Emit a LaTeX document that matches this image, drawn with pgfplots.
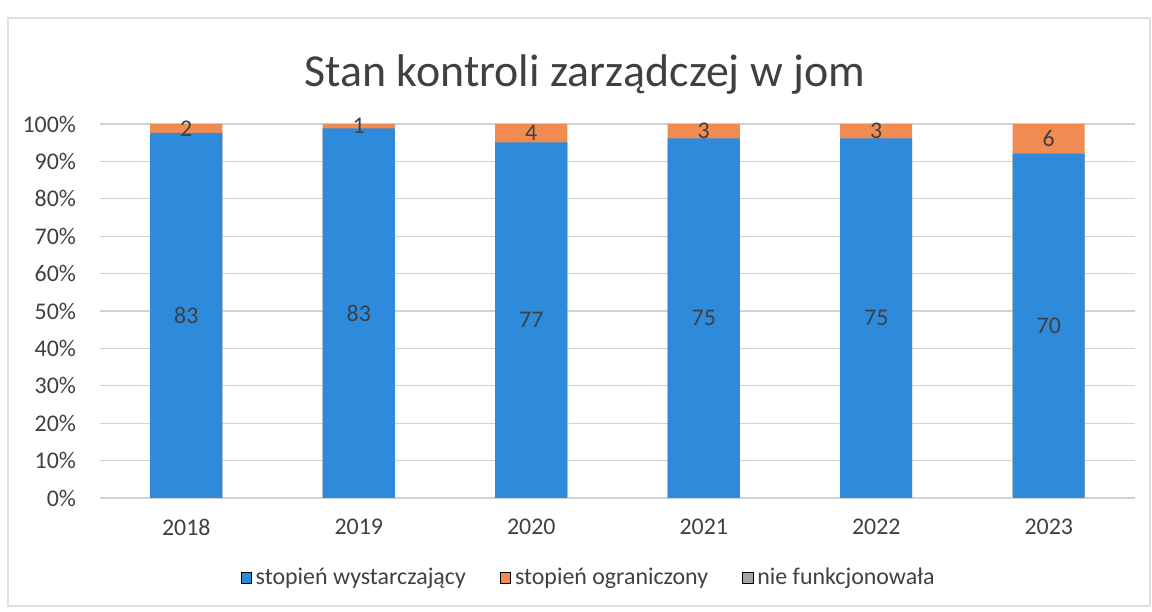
\documentclass[border=0pt]{standalone}
\usepackage{pgfplots}
\pgfplotsset{compat=1.18}
\usepackage{pgfplotstable}
\usepackage{fontspec}
\setmainfont{Carlito}
\definecolor{cblue}{RGB}{46,138,218}
\definecolor{corange}{RGB}{240,140,82}
\definecolor{cgray}{RGB}{165,165,165}
\definecolor{ctext}{RGB}{64,64,64}
\definecolor{cgrid}{RGB}{210,210,210}
\pgfplotstableread{
i year a b c
0 2018 83 2 0
1 2019 83 1 0
2 2020 77 4 0
3 2021 75 3 0
4 2022 75 3 0
5 2023 70 6 0
}\datatab
\begin{document}
\begin{tikzpicture}
\path[use as bounding box] (0,0) rectangle (576bp,306bp);
\draw[gray!25, line width=0.6bp] (4bp,3bp) rectangle (575bp,297bp);
\node[font=\fontsize{23}{27}\selectfont, text=ctext] at (292.5bp,268.5bp) {Stan kontroli zarządczej w jom};
\begin{axis}[
  at={(50bp,57bp)}, anchor=south west,
  scale only axis, width=517.5bp, height=187bp,
  xmin=-0.5, xmax=5.5, ymin=0, ymax=100,
  xtick={0,...,5}, xticklabels={2018,2019,2020,2021,2022,2023},
  ytick={0,10,...,100},
  yticklabels={0\%,10\%,20\%,30\%,40\%,50\%,60\%,70\%,80\%,90\%,100\%},
  ymajorgrids, grid style={cgrid, line width=0.6bp},
  axis line style={draw=none}, tick style={draw=none},
  tick label style={font=\fontsize{12}{14}\selectfont, text=ctext},
  xticklabel style={yshift=-7bp},
  yticklabel style={xshift=-8.5bp},
  legend columns=3,
  legend style={at={(0.473,0)}, anchor=center, yshift=-40bp, draw=none, fill=none,
    font=\fontsize{12}{14}\selectfont, text=ctext,
    /tikz/every even column/.append style={column sep=15bp}},
  legend image code/.code={\fill[#1] (0bp,-2.6bp) rectangle (5.2bp,2.6bp);},
]
\addlegendimage{fill=cblue}
\addlegendentry{stopień wystarczający}
\addlegendimage{fill=corange}
\addlegendentry{stopień ograniczony}
\addlegendimage{fill=cgray}
\addlegendentry{nie funkcjonowała}
% orange: full stack (blue + orange)
\addplot[ybar, bar width=36bp, bar shift=0pt, fill=corange, draw=none, forget plot]
  table[x=i, y expr={100*(\thisrow{a}+\thisrow{b})/(\thisrow{a}+\thisrow{b}+\thisrow{c})}] {\datatab};
% blue
\addplot[ybar, bar width=36bp, bar shift=0pt, fill=cblue, draw=none, forget plot]
  table[x=i, y expr={100*\thisrow{a}/(\thisrow{a}+\thisrow{b}+\thisrow{c})}] {\datatab};
% labels blue
\addplot[only marks, mark=none, forget plot, nodes near coords, point meta=explicit symbolic,
  every node near coord/.append style={anchor=center, font=\fontsize{12}{14}\selectfont, text=ctext}]
  table[x=i, y expr={50*\thisrow{a}/(\thisrow{a}+\thisrow{b}+\thisrow{c})}, meta=a] {\datatab};
% labels orange
\addplot[only marks, mark=none, forget plot, nodes near coords, point meta=explicit symbolic,
  every node near coord/.append style={anchor=center, font=\fontsize{12}{14}\selectfont, text=ctext}]
  table[x=i, y expr={100*(\thisrow{a}+0.5*\thisrow{b})/(\thisrow{a}+\thisrow{b}+\thisrow{c})}, meta=b] {\datatab};
\end{axis}
\end{tikzpicture}
\end{document}
